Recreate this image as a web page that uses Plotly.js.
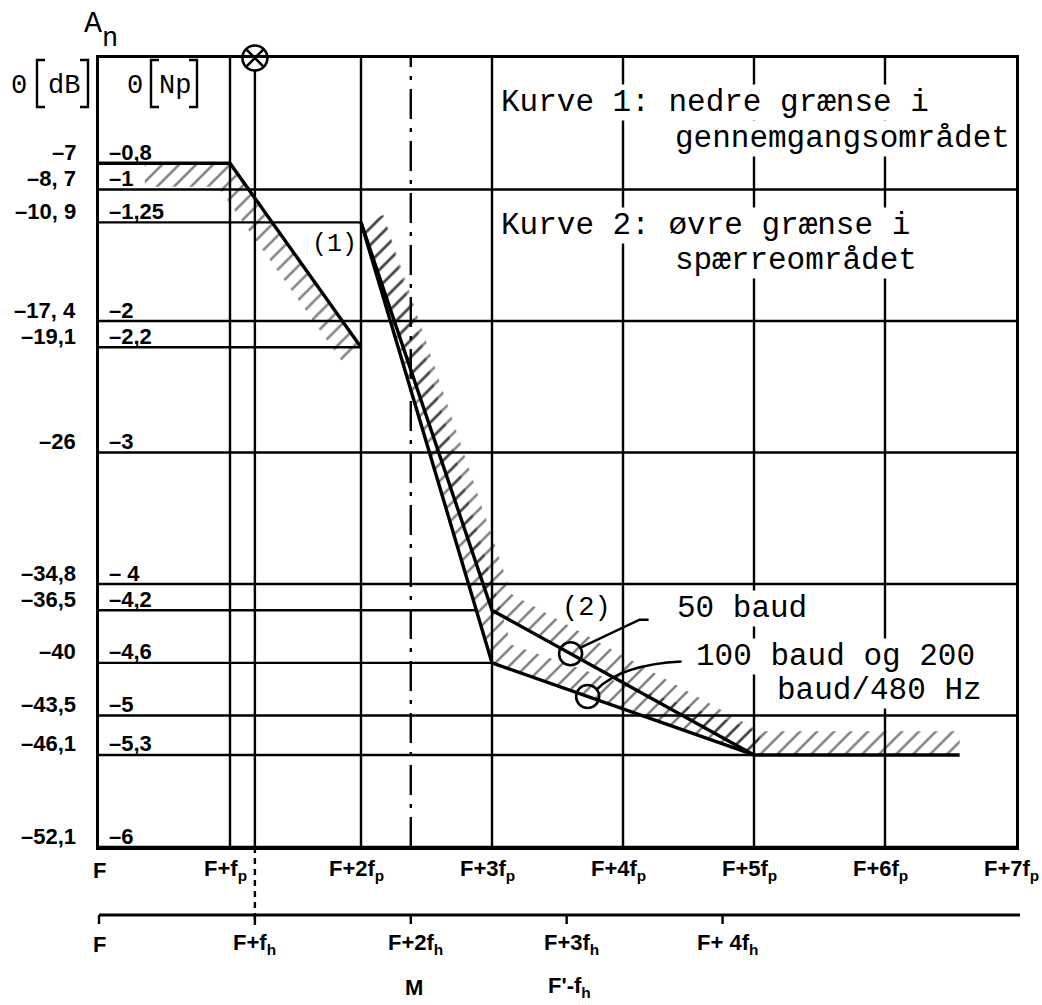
<!DOCTYPE html>
<html><head><meta charset="utf-8">
<script src="https://cdn.plot.ly/plotly-3.0.1.min.js"></script>
<style>html,body{margin:0;padding:0;background:#fff}#chart{width:1042px;height:1005px}</style>
</head><body><div id="chart"></div>
<script>
// ---------------- data (x in units of fp above F, y in Np) ----------------
const fpTicks = [0, 1, 2, 3, 4, 5, 6, 7];
const fpLabels = ['F', 'F+f<sub>p</sub>', 'F+2f<sub>p</sub>', 'F+3f<sub>p</sub>', 'F+4f<sub>p</sub>', 'F+5f<sub>p</sub>', 'F+6f<sub>p</sub>', 'F+7f<sub>p</sub>'];
const fhPerFp = 1.19;
const fhTicks = [0, 1, 2, 3, 4];
const fhLabels = ['F', 'F+f<sub>h</sub>', 'F+2f<sub>h</sub>', 'F+3f<sub>h</sub>', 'F+ 4f<sub>h</sub>'];
const fhLabels2 = ['', '', 'M', "F'-f<sub>h</sub>", ''];
const npLevels = [-0.8, -1, -1.25, -2, -2.2, -3, -4, -4.2, -4.6, -5, -5.3, -6];
const npLabels = ['–0,8', '–1', '–1,25', '–2', '–2,2', '–3', '– 4', '–4,2', '–4,6', '–5', '–5,3', '–6'];
const dbLabels = ['–7', '–8, 7', '–10, 9', '–17, 4', '–19,1', '–26', '–34,8', '–36,5', '–40', '–43,5', '–46,1', '–52,1'];
// which curve each reference level runs to ('full' = across the whole grid)
const levelSpan = ['c1', 'full', 'c2', 'full', 'c1', 'full', 'full', 'c2b', 'c2b', 'full', 'c2b', 'full'];

// Curve 1: lower limit in the pass band
const curve1X = [0, 1, 2];
const curve1Y = [-0.8, -0.8, -2.2];
// Curve 2: upper limit in the stop band
const curve50X = [2, 3, 5, 6.57];          // 50 baud
const curve50Y = [-1.25, -4.2, -5.3, -5.3];
const curve100X = [2, 3, 5];               // 100 baud og 200 baud/480 Hz
const curve100Y = [-1.25, -4.6, -5.3];
const circleX = [3.6, 3.73];               // circles marking the two curves

// ---------------- geometry helpers ----------------
const W = 1042, H = 1005, ML = 99, MR = 26, MT = 58, MB = 158;
const PW = W - ML - MR, PH = H - MT - MB;
const XR = [0, 7], YR = [-6, 0];
const px2paperX = px => (px - ML) / PW;
const px2paperY = py => (H - MB - py) / PH;
const dxPx = d => d / PW * (XR[1] - XR[0]);
const dyPx = d => -d / PH * (YR[1] - YR[0]);

function yAt(xs, ys, x) {
  for (let i = 0; i < xs.length - 1; i++) {
    if (x >= xs[i] && x <= xs[i + 1]) {
      const t = (x - xs[i]) / (xs[i + 1] - xs[i]);
      return ys[i] + t * (ys[i + 1] - ys[i]);
    }
  }
  return ys[ys.length - 1];
}
function xAtLevel(xs, ys, v) {
  for (let i = 0; i < xs.length - 1; i++) {
    if (ys[i] === ys[i + 1]) continue;
    if ((ys[i] - v) * (ys[i + 1] - v) <= 0) {
      const t = (v - ys[i]) / (ys[i + 1] - ys[i]);
      return xs[i] + t * (xs[i + 1] - xs[i]);
    }
  }
  return xs[xs.length - 1];
}
function trimStart(xs, ys, x0) {
  const ox = [x0], oy = [yAt(xs, ys, x0)];
  xs.forEach((x, i) => { if (x > x0) { ox.push(x); oy.push(ys[i]); } });
  return [ox, oy];
}
// polygon between a polyline and its offset (sign +1: left of travel, -1: right)
function band(xs, ys, w, sign) {
  const n = xs.length, nr = [];
  for (let i = 0; i < n - 1; i++) {
    const dx = xs[i + 1] - xs[i], dy = ys[i + 1] - ys[i], l = Math.hypot(dx, dy);
    nr.push([-dy / l * sign, dx / l * sign]);
  }
  const ox = [], oy = [];
  for (let i = 0; i < n; i++) {
    let nx, ny;
    if (i === 0) [nx, ny] = nr[0];
    else if (i === n - 1) [nx, ny] = nr[n - 2];
    else {
      const a = nr[i - 1], b = nr[i], s = 1 + a[0] * b[0] + a[1] * b[1];
      nx = (a[0] + b[0]) / s; ny = (a[1] + b[1]) / s;
    }
    ox.push(xs[i] + nx * w); oy.push(ys[i] + ny * w);
  }
  return { x: xs.concat(ox.slice().reverse(), [xs[0]]), y: ys.concat(oy.slice().reverse(), [ys[0]]) };
}

const INK = '#000';
const pattern = { shape: '/', size: 12, solidity: 0.21, fgcolor: INK, bgcolor: 'rgba(255,255,255,0)', fillmode: 'overlay' };
function hatchTrace(b) {
  return { x: b.x, y: b.y, mode: 'none', fill: 'toself', fillcolor: 'rgba(0,0,0,0)', fillpattern: pattern, hoverinfo: 'skip', showlegend: false };
}

// ---------------- traces ----------------
const [h1x, h1y] = trimStart(curve1X, curve1Y, 0.35);
const traces = [
  hatchTrace(band(h1x, h1y, 0.18, -1)),
  hatchTrace(band(curve50X, curve50Y, 0.18, 1)),
  hatchTrace(band(curve100X, curve100Y, 0.18, 1)),
];
[[curve1X, curve1Y], [curve50X, curve50Y], [curve100X, curve100Y]].forEach(([x, y]) => {
  traces.push({ x, y, mode: 'lines', line: { color: INK, width: 3.4 }, cliponaxis: false, hoverinfo: 'skip', showlegend: false });
});
const circleY = [yAt(curve50X, curve50Y, circleX[0]), yAt(curve100X, curve100Y, circleX[1])];
traces.push({ x: circleX, y: circleY, mode: 'markers', marker: { symbol: 'circle-open', size: 23, color: INK, line: { width: 2.6 } }, hoverinfo: 'skip', showlegend: false });
traces.push({ x: [fhTicks[1] * fhPerFp], y: [YR[1]], mode: 'markers', cliponaxis: false, marker: { symbol: 'circle-x', size: 25, color: '#fff', line: { color: INK, width: 2.6 } }, hoverinfo: 'skip', showlegend: false });

// ---------------- shapes ----------------
const GL = { color: INK, width: 2.4 };
const shapes = [];
npLevels.forEach((v, i) => {
  let x1 = XR[1];
  if (levelSpan[i] === 'c1') x1 = xAtLevel(curve1X, curve1Y, v);
  else if (levelSpan[i] === 'c2') x1 = xAtLevel(curve50X, curve50Y, v);
  else if (levelSpan[i] === 'c2b') x1 = xAtLevel(curve100X, curve100Y, v);
  shapes.push({ type: 'line', layer: 'below', xref: 'x', yref: 'y', x0: XR[0], x1: x1, y0: v, y1: v, line: GL });
});
fpTicks.slice(1, -1).forEach(k => {
  shapes.push({ type: 'line', layer: 'below', xref: 'x', yref: 'y', x0: k, x1: k, y0: YR[0], y1: YR[1], line: GL });
});
// F+fh line (solid in the grid, dashed down to the second scale)
shapes.push({ type: 'line', layer: 'below', xref: 'x', yref: 'y', x0: fhPerFp, x1: fhPerFp, y0: YR[0], y1: YR[1], line: GL });
shapes.push({ type: 'line', xref: 'paper', yref: 'paper', x0: fhPerFp / 7, x1: fhPerFp / 7, y0: 0, y1: px2paperY(925), line: { color: INK, width: 2.4, dash: '6px,5px' } });
// M = F+2fh dash-dot line
shapes.push({ type: 'line', layer: 'below', xref: 'x', yref: 'y', x0: 2 * fhPerFp, x1: 2 * fhPerFp, y0: YR[0], y1: YR[1], line: { color: INK, width: 2.4, dash: '30px,9px,4px,9px' } });
// second frequency scale
const y2 = px2paperY(915);
shapes.push({ type: 'line', xref: 'paper', yref: 'paper', x0: 0, x1: px2paperX(1020), y0: y2, y1: y2, line: { color: INK, width: 2.8 } });
fhTicks.forEach(k => {
  shapes.push({ type: 'line', xref: 'paper', yref: 'paper', x0: k * fhPerFp / 7, x1: k * fhPerFp / 7, y0: y2, y1: px2paperY(924), line: { color: INK, width: 2.4 } });
});
// unit brackets [dB] [Np]
function bracket(xEdge, xSerif, yTop, yBot) {
  const a = px2paperX(xSerif), b = px2paperX(xEdge), t = px2paperY(yTop), u = px2paperY(yBot);
  return { type: 'path', xref: 'paper', yref: 'paper', path: `M${a},${t} L${b},${t} L${b},${u} L${a},${u}`, line: { color: INK, width: 2.4 } };
}
shapes.push(bracket(37, 45, 60, 107), bracket(88, 80, 60, 107), bracket(151, 159, 60, 107), bracket(197, 189, 60, 107));
// leader lines from the circles to the labels
const c50 = [circleX[0], circleY[0]], c100 = [circleX[1], circleY[1]];
const P = (c, ox, oy) => `${c[0] + dxPx(ox)},${c[1] + dyPx(oy)}`;
shapes.push({ type: 'path', xref: 'x', yref: 'y', path: `M${P(c50, 10, -6)} L${P(c50, 69, -34)} L${P(c50, 78, -34)}`, line: { color: INK, width: 2.5 } });
shapes.push({ type: 'path', xref: 'x', yref: 'y', path: `M${P(c100, 9, -7)} Q${P(c100, 34, -32)} ${P(c100, 94, -35)}`, line: { color: INK, width: 2.5 } });

// ---------------- annotations ----------------
const SANS = { family: 'Liberation Sans, Arial, sans-serif', size: 22, color: INK, weight: 'bold' };
const MONO = { family: 'Liberation Mono, DejaVu Sans Mono, monospace', size: 31, color: INK };
const ann = [];
npLevels.forEach((v, i) => {
  ann.push({ xref: 'x', yref: 'y', x: XR[0], y: v, text: dbLabels[i], showarrow: false, xanchor: 'right', yanchor: 'middle', xshift: -21, yshift: 11, font: SANS });
  ann.push({ xref: 'x', yref: 'y', x: XR[0], y: v, text: npLabels[i], showarrow: false, xanchor: 'left', yanchor: 'middle', xshift: 8, yshift: 11, font: SANS });
});
fpTicks.forEach((k, i) => {
  ann.push({ xref: 'x', yref: 'y', x: k, y: YR[0], text: fpLabels[i], showarrow: false, xanchor: 'center', yanchor: 'middle', xshift: i === 0 ? 0 : -5, yshift: -23, font: SANS });
});
fhTicks.forEach((k, i) => {
  ann.push({ xref: 'paper', yref: 'paper', x: k * fhPerFp / 7, y: px2paperY(944), text: fhLabels[i], showarrow: false, xanchor: 'center', yanchor: 'middle', xshift: i < 2 ? 0 : 5, font: SANS });
  if (fhLabels2[i]) ann.push({ xref: 'paper', yref: 'paper', x: k * fhPerFp / 7, y: px2paperY(987), text: fhLabels2[i], showarrow: false, xanchor: 'center', yanchor: 'middle', xshift: 3, font: SANS });
});
function txt(text, px, py, xanchor, font, bg) {
  ann.push({ xref: 'paper', yref: 'paper', x: px2paperX(px), y: px2paperY(py), text, showarrow: false, xanchor, yanchor: 'middle', font, bgcolor: bg ? '#fff' : 'rgba(0,0,0,0)', borderpad: 0 });
}
const MONO27 = { family: MONO.family, size: 27, color: INK };
txt('A', 83, 24, 'left', { family: MONO.family, size: 30, color: INK });
txt('n', 101, 39, 'left', MONO27);
txt('0', 10, 86, 'left', MONO27);
txt('dB', 47, 86, 'left', MONO27);
txt('0', 126, 86, 'left', MONO27);
txt('Np', 158, 86, 'left', MONO27);
txt('Kurve 1: nedre grænse i', 500, 102, 'left', MONO, true);
txt('gennemgangsområdet', 674, 138, 'left', MONO, true);
txt('Kurve 2: øvre grænse i', 500, 225, 'left', MONO, true);
txt('spærreområdet', 674, 260, 'left', MONO, true);
txt('(1)', 311, 245, 'left', { family: MONO.family, size: 25, color: INK }, false);
txt('(2)', 561, 608, 'left', MONO27, false);
txt('50 baud', 676, 608, 'left', MONO, true);
txt('100 baud og 200', 695, 656, 'left', MONO, true);
txt('baud/480 Hz', 983, 690, 'right', MONO, true);

const layout = {
  width: W, height: H,
  margin: { l: ML, r: MR, t: MT, b: MB, pad: 0 },
  paper_bgcolor: '#fff', plot_bgcolor: '#fff',
  showlegend: false,
  xaxis: { range: XR, showgrid: false, zeroline: false, showticklabels: false, ticks: '', showline: true, mirror: true, linecolor: INK, linewidth: 3, fixedrange: true },
  yaxis: { range: YR, showgrid: false, zeroline: false, showticklabels: false, ticks: '', showline: true, mirror: true, linecolor: INK, linewidth: 3, fixedrange: true },
  shapes, annotations: ann,
};
Plotly.newPlot('chart', traces, layout, { staticPlot: true, displayModeBar: false });
</script>
</body></html>
